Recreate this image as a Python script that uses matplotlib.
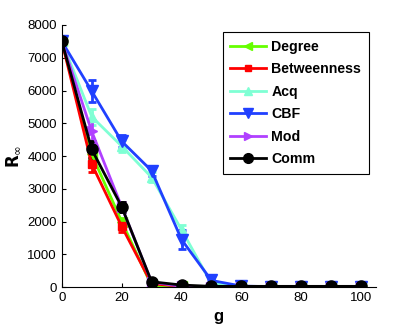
import matplotlib
matplotlib.use("Agg")
import matplotlib.pyplot as plt
from matplotlib.lines import Line2D

plt.rcParams['font.family'] = ['Liberation Sans', 'DejaVu Sans']

g = [0, 10, 20, 30, 40, 50, 60, 70, 80, 90, 100]
series_names = ["Degree", "Betweenness", "Acq", "CBF", "Mod", "Comm"]
degree = [7500, 4050, 2000, 40, 20, 10, 10, 10, 10, 10, 10]
degree_err = [0, 150, 120, 20, 5, 5, 5, 5, 5, 5, 5]
betweenness = [7500, 3750, 1850, 100, 20, 10, 10, 10, 10, 10, 10]
betweenness_err = [0, 230, 180, 30, 5, 5, 5, 5, 5, 5, 5]
acq = [7500, 5200, 4300, 3350, 1750, 100, 20, 10, 10, 10, 10]
acq_err = [0, 250, 180, 150, 150, 30, 5, 5, 5, 5, 5]
cbf = [7500, 5980, 4450, 3550, 1450, 200, 30, 10, 10, 10, 10]
cbf_err = [0, 330, 180, 150, 280, 40, 5, 5, 5, 5, 5]
mod = [7500, 4750, 2450, 150, 20, 10, 10, 10, 10, 10, 10]
mod_err = [0, 350, 150, 30, 5, 5, 5, 5, 5, 5, 5]
comm = [7500, 4200, 2450, 160, 60, 20, 20, 20, 20, 20, 20]
comm_err = [0, 250, 150, 30, 10, 5, 5, 5, 5, 5, 5]

values = [degree, betweenness, acq, cbf, mod, comm]
errors = [degree_err, betweenness_err, acq_err, cbf_err, mod_err, comm_err]
colors = ["#66ff00", "#ff0000", "#7fffd4", "#2040ff", "#b040ff", "#000000"]
markers = ["<", "s", "^", "v", ">", "o"]
msizes = [7, 6, 7, 8, 7, 8]

fig = plt.figure(figsize=(4.15, 3.32), dpi=100)
ax = fig.add_axes([0.149, 0.1355, 0.757, 0.7892])

handles = []
for name, v, e, c, m, ms in zip(series_names, values, errors, colors, markers, msizes):
    ax.errorbar(g, v, yerr=e, color=c, marker=m, markersize=ms, linewidth=2,
                elinewidth=2, capsize=3, capthick=2)
    handles.append(Line2D([], [], color=c, marker=m, markersize=ms - 1, linewidth=2, label=name))

ax.set_xlim(0, 105)
ax.set_ylim(0, 8000)
ax.set_xticks([0, 20, 40, 60, 80, 100])
ax.set_yticks(range(0, 8001, 1000))
ax.spines['top'].set_visible(False)
ax.spines['right'].set_visible(False)
ax.tick_params(direction='in', labelsize=9.5, length=3)
ax.set_xlabel('g', fontsize=12, fontweight='bold')
ax.set_ylabel(r'$\mathbf{R}_{\infty}$', fontsize=12)

leg = ax.legend(handles=handles, loc='upper right', bbox_to_anchor=(0.978, 0.973),
                borderaxespad=0, fancybox=False,
                edgecolor='black', framealpha=1, prop={'weight': 'bold', 'size': 10.2},
                handlelength=2.5, labelspacing=0.6, borderpad=0.55, handletextpad=0.4)
leg.get_frame().set_linewidth(0.8)

fig.savefig("out.png", dpi=100)
